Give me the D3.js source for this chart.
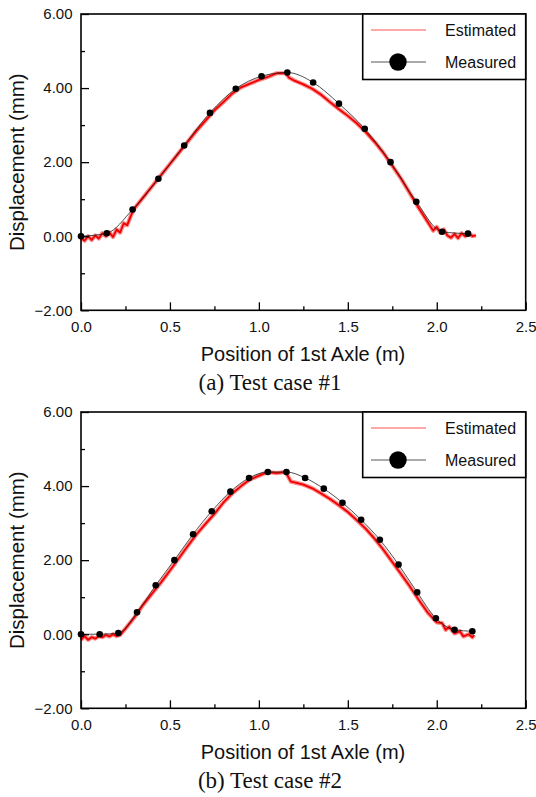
<!DOCTYPE html>
<html>
<head>
<meta charset="utf-8">
<script src="https://cdn.jsdelivr.net/npm/d3@7"></script>
<style>
  body { margin: 0; background: #fff; }
  svg { display: block; }
</style>
</head>
<body>
<svg id="chart" width="536" height="797"></svg>
<script>
// axis ticks
var xTicks = [0, 0.5, 1.0, 1.5, 2.0, 2.5];
var xMinor = [0.25, 0.75, 1.25, 1.75, 2.25];
var yTicks = [-2, 0, 2, 4, 6];
var yMinor = [-1, 1, 3, 5];
var legendLabels = ["Estimated", "Measured"];
var captions = ["(a) Test case #1", "(b) Test case #2"];

// test case #1
var measX1 = [0, 0.145, 0.29, 0.435, 0.58, 0.725, 0.87, 1.015, 1.16, 1.305, 1.45, 1.595, 1.74, 1.885, 2.03, 2.175];
var measY1 = [0, 0.08, 0.72, 1.55, 2.45, 3.33, 3.98, 4.32, 4.42, 4.15, 3.58, 2.90, 2.00, 0.93, 0.12, 0.07];
var estX1 = [0, 0.02, 0.04, 0.06, 0.08, 0.10, 0.12, 0.14, 0.16, 0.18, 0.20, 0.22, 0.24, 0.26, 0.28, 0.30,
  0.35, 0.40, 0.45, 0.50, 0.55, 0.60, 0.65, 0.70, 0.75, 0.80, 0.85, 0.90, 0.95, 1.00, 1.05, 1.10, 1.15, 1.17,
  1.20, 1.25, 1.30, 1.35, 1.40, 1.45, 1.50, 1.55, 1.60, 1.65, 1.70, 1.75, 1.80, 1.85, 1.90, 1.95, 1.98,
  2.00, 2.02, 2.04, 2.06, 2.08, 2.10, 2.12, 2.14, 2.16, 2.18, 2.20, 2.22];
var estY1 = [-0.05, -0.12, 0.00, -0.10, 0.02, -0.06, 0.08, 0.00, 0.10, -0.02, 0.18, 0.10, 0.35, 0.30, 0.55, 0.75,
  1.05, 1.35, 1.65, 1.95, 2.25, 2.55, 2.85, 3.12, 3.40, 3.62, 3.85, 4.02, 4.12, 4.22, 4.30, 4.40, 4.40, 4.28,
  4.20, 4.10, 3.98, 3.82, 3.62, 3.43, 3.25, 3.05, 2.82, 2.55, 2.25, 1.90, 1.55, 1.15, 0.75, 0.38, 0.15,
  0.25, 0.10, 0.18, 0.02, -0.04, 0.06, -0.05, 0.08, 0.00, 0.10, 0.00, 0.02];

// test case #2
var measX2 = [0, 0.105, 0.21, 0.315, 0.42, 0.525, 0.63, 0.735, 0.84, 0.945, 1.05, 1.155, 1.26, 1.365, 1.47,
  1.575, 1.68, 1.785, 1.89, 1.995, 2.10, 2.20];
var measY2 = [0, 0, 0.03, 0.59, 1.32, 2.00, 2.70, 3.32, 3.85, 4.22, 4.38, 4.38, 4.22, 3.93, 3.55,
  3.09, 2.55, 1.88, 1.13, 0.43, 0.12, 0.08];
var estX2 = [0, 0.02, 0.04, 0.06, 0.08, 0.10, 0.12, 0.14, 0.16, 0.18, 0.20, 0.22, 0.25, 0.30,
  0.35, 0.40, 0.45, 0.50, 0.55, 0.60, 0.65, 0.70, 0.75, 0.80, 0.85, 0.90, 0.95, 1.00, 1.05, 1.10, 1.15, 1.18,
  1.20, 1.25, 1.30, 1.35, 1.40, 1.45, 1.50, 1.55, 1.60, 1.65, 1.70, 1.75, 1.80, 1.85, 1.90, 1.95, 2.00,
  2.03, 2.05, 2.07, 2.10, 2.13, 2.15, 2.18, 2.20, 2.21];
var estY2 = [-0.15, -0.05, -0.15, -0.08, -0.12, -0.05, -0.08, -0.02, -0.06, 0.00, -0.05, -0.02, 0.15, 0.45,
  0.80, 1.10, 1.40, 1.72, 2.05, 2.38, 2.70, 2.98, 3.25, 3.55, 3.80, 4.00, 4.18, 4.28, 4.38, 4.35, 4.38, 4.12,
  4.10, 4.04, 3.94, 3.80, 3.65, 3.48, 3.30, 3.08, 2.85, 2.58, 2.28, 1.95, 1.62, 1.28, 0.92, 0.58, 0.32,
  0.30, 0.12, 0.20, 0.02, 0.08, -0.06, 0.00, -0.08, -0.02];

var svg = d3.select("#chart");

function drawPanel(opt) {
  var left = 81, right = 525.7;
  var top = opt.top, bottom = opt.top + 296.3;

  var x = d3.scaleLinear().domain([0, 2.5]).range([left, right]);
  var y = d3.scaleLinear().domain([-2, 6]).range([bottom, top]);

  var g = svg.append("g");

  // red estimated line: light halo then core
  var estPts = opt.estX.map(function (d, i) { return [d, opt.estY[i]]; });
  var measPts = opt.measX.map(function (d, i) { return [d, opt.measY[i]]; });

  var lineE = d3.line().x(function (d) { return x(d[0]); }).y(function (d) { return y(d[1]); });
  var lineM = d3.line().curve(d3.curveMonotoneX)
    .x(function (d) { return x(d[0]); }).y(function (d) { return y(d[1]); });

  g.append("path").datum(estPts).attr("d", lineE)
    .attr("fill", "none").attr("stroke", "#ff8a8a").attr("stroke-width", 4.2)
    .attr("stroke-linejoin", "round");
  g.append("path").datum(estPts).attr("d", lineE)
    .attr("fill", "none").attr("stroke", "#f00000").attr("stroke-width", 1.8)
    .attr("stroke-linejoin", "round");

  g.append("path").datum(measPts).attr("d", lineM)
    .attr("fill", "none").attr("stroke", "#222").attr("stroke-width", 0.8);

  g.selectAll("circle.meas").data(measPts).enter().append("circle")
    .attr("class", "meas")
    .attr("cx", function (d) { return x(d[0]); })
    .attr("cy", function (d) { return y(d[1]); })
    .attr("r", 3.3).attr("fill", "#000");

  // axes, ticks inward
  var fmtY = d3.format(".2f"), fmtX = d3.format(".1f");
  var axX = g.append("g").attr("transform", "translate(0," + bottom + ")")
    .call(d3.axisBottom(x).tickValues(xTicks).tickSizeInner(-8).tickSizeOuter(0).tickPadding(11).tickFormat(fmtX));
  var axXm = g.append("g").attr("transform", "translate(0," + bottom + ")")
    .call(d3.axisBottom(x).tickValues(xMinor).tickSizeInner(-4).tickSizeOuter(0).tickFormat(""));
  var axY = g.append("g").attr("transform", "translate(" + left + ",0)")
    .call(d3.axisLeft(y).tickValues(yTicks).tickSizeInner(-8).tickSizeOuter(0).tickPadding(8.5).tickFormat(fmtY));
  var axYm = g.append("g").attr("transform", "translate(" + left + ",0)")
    .call(d3.axisLeft(y).tickValues(yMinor).tickSizeInner(-4).tickSizeOuter(0).tickFormat(""));

  [axX, axXm, axY, axYm].forEach(function (a) {
    a.select(".domain").remove();
    a.selectAll(".tick line").attr("stroke", "#000").attr("stroke-width", 1.3);
    a.selectAll("text").attr("font-family", "Liberation Sans, Arial, sans-serif")
      .attr("font-size", 15).attr("fill", "#111");
  });

  // frame
  g.append("rect").attr("x", left).attr("y", top)
    .attr("width", right - left).attr("height", bottom - top)
    .attr("fill", "none").attr("stroke", "#000").attr("stroke-width", 1.6);

  // legend
  var lg = g.append("g");
  lg.append("rect").attr("x", 362.7).attr("y", top)
    .attr("width", right - 362.7).attr("height", 65.5)
    .attr("fill", "#fff").attr("stroke", "#000").attr("stroke-width", 1.6);
  lg.append("line").attr("x1", 371).attr("x2", 426).attr("y1", top + 16).attr("y2", top + 16)
    .attr("stroke", "#ff5050").attr("stroke-width", 1);
  lg.append("line").attr("x1", 371).attr("x2", 426).attr("y1", top + 48).attr("y2", top + 48)
    .attr("stroke", "#555").attr("stroke-width", 1);
  lg.append("circle").attr("cx", 398).attr("cy", top + 48).attr("r", 8.7).attr("fill", "#000");
  lg.selectAll("text").data(legendLabels).enter().append("text")
    .attr("x", 445)
    .attr("y", function (d, i) { return top + 22 + i * 32; })
    .attr("font-family", "Liberation Sans, Arial, sans-serif")
    .attr("font-size", 16).attr("fill", "#111")
    .text(function (d) { return d; });

  // axis titles
  g.append("text").attr("x", 303).attr("y", bottom + 51)
    .attr("text-anchor", "middle")
    .attr("font-family", "Liberation Sans, Arial, sans-serif")
    .attr("font-size", 20).attr("fill", "#111")
    .text("Position of 1st Axle (m)");
  g.append("text")
    .attr("transform", "translate(24," + ((top + bottom) / 2) + ") rotate(-90)")
    .attr("text-anchor", "middle")
    .attr("font-family", "Liberation Sans, Arial, sans-serif")
    .attr("font-size", 20.5).attr("fill", "#111")
    .text("Displacement (mm)");

  // caption
  g.append("text").attr("x", 270).attr("y", bottom + 80)
    .attr("text-anchor", "middle")
    .attr("font-family", "Liberation Serif, Times New Roman, serif")
    .attr("font-size", 23).attr("fill", "#111")
    .text(opt.caption);
}

drawPanel({ top: 14, measX: measX1, measY: measY1, estX: estX1, estY: estY1, caption: captions[0] });
drawPanel({ top: 412, measX: measX2, measY: measY2, estX: estX2, estY: estY2, caption: captions[1] });
</script>
</body>
</html>
